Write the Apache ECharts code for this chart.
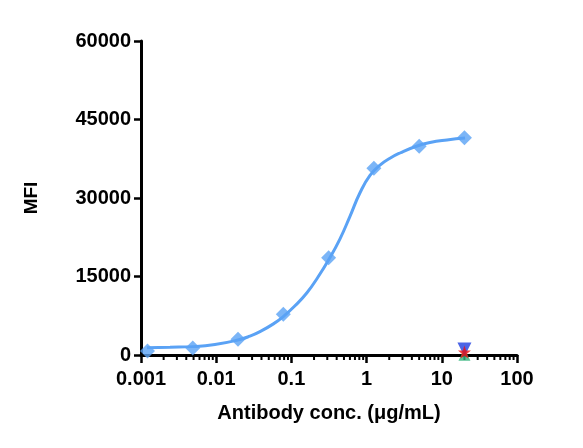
<!DOCTYPE html>
<html>
<head>
<meta charset="utf-8">
<script src="https://cdn.jsdelivr.net/npm/echarts@6/dist/echarts.min.js"></script>
<style>html,body{margin:0;padding:0;background:#fff}#c{width:583px;height:448px}</style>
</head>
<body>
<div id="c"></div>
<script>
// Measured data points (concentration µg/mL, MFI)
var concentrations = [0.00122, 0.00488, 0.0195, 0.078, 0.3125, 1.25, 5, 20];
var mfiValues = [760, 1340, 3000, 7800, 18600, 35700, 39900, 41500];

// Fitted curve (concentration, MFI)
var curveX = [0.0012, 0.00243, 0.00491, 0.00963, 0.0195, 0.0281, 0.0382, 0.0569, 0.0773, 0.1116, 0.161, 0.226, 0.316, 0.443, 0.601, 0.817, 1.109, 1.507, 2.046, 2.779, 4.40, 6.97, 11.72, 20.4];
var curveY = [1400, 1480, 1600, 2000, 2870, 3600, 4460, 5900, 7300, 9400, 11900, 14900, 18300, 22200, 26500, 31000, 34300, 36300, 37600, 38600, 39800, 40600, 41100, 41450];

// Control samples at 20 µg/mL
var controlBlue = [[20, 1050]];
var controlRed = [[20, 550]];
var controlGreen = [[20, 60]];

// Axis ticks
var xTickValues = [0.001, 0.01, 0.1, 1, 10, 100];
var xTickLabels = ['0.001', '0.01', '0.1', '1', '10', '100'];
var yTickLabels = ['0', '15000', '30000', '45000', '60000'];
var decades = [0.001, 0.01, 0.1, 1, 10];
var minorMultipliers = [2, 3, 4, 5, 6, 7, 8, 9];

var minorTicks = [];
decades.forEach(function (d) {
  minorMultipliers.forEach(function (m) { minorTicks.push([d * m, 0]); });
});

var pointData = concentrations.map(function (c, i) { return [c, mfiValues[i]]; });
var curveData = curveX.map(function (c, i) { return [c, curveY[i]]; });

var blue = '#5aa2f5';
var font = 'Liberation Sans, Arial, sans-serif';

var chart = echarts.init(document.getElementById('c'), null, {renderer: 'canvas'});
chart.setOption({
  animation: false,
  backgroundColor: '#fff',
  grid: {left: 141, right: 66, top: 41, bottom: 93, containLabel: false},
  xAxis: {
    type: 'log', logBase: 10, min: 0.001, max: 100,
    name: 'Antibody conc. (μg/mL)', nameLocation: 'middle', nameGap: 48,
    nameTextStyle: {fontFamily: font, fontWeight: 'bold', fontSize: 20, color: '#000'},
    axisLine: {show: true, lineStyle: {color: '#000', width: 3}},
    axisTick: {show: true, length: 8, lineStyle: {color: '#000', width: 2.5}},
    axisLabel: {
      margin: 14, fontFamily: font, fontWeight: 'bold', fontSize: 20, color: '#000',
      formatter: function (v) {
        for (var i = 0; i < xTickValues.length; i++) {
          if (Math.abs(Math.log10(v) - Math.log10(xTickValues[i])) < 1e-6) return xTickLabels[i];
        }
        return '';
      }
    },
    splitLine: {show: false}
  },
  yAxis: {
    type: 'value', min: 0, max: 60000, interval: 15000,
    name: 'MFI', nameLocation: 'middle', nameGap: 100, nameRotate: 90,
    nameTextStyle: {fontFamily: font, fontWeight: 'bold', fontSize: 19, color: '#000'},
    axisLine: {show: true, lineStyle: {color: '#000', width: 3}},
    axisTick: {show: true, length: 7, lineStyle: {color: '#000', width: 2.5}},
    axisLabel: {
      margin: 10, fontFamily: font, fontWeight: 'bold', fontSize: 20, color: '#000',
      formatter: function (v) { return yTickLabels[Math.round(v / 15000)]; }
    },
    splitLine: {show: false}
  },
  series: [
    {
      type: 'custom', data: minorTicks, clip: false, silent: true, z: 1,
      renderItem: function (params, api) {
        var p = api.coord([api.value(0), 0]);
        return {type: 'line', shape: {x1: p[0], y1: p[1] + 1, x2: p[0], y2: p[1] + 5},
          style: {stroke: '#000', lineWidth: 2}};
      }
    },
    {
      type: 'line', data: curveData, smooth: 0.5, showSymbol: false, symbol: 'none',
      lineStyle: {color: blue, width: 3}, z: 2
    },
    {
      type: 'scatter', data: pointData, symbol: 'diamond', symbolSize: 15,
      itemStyle: {color: blue}, z: 3
    },
    {
      type: 'scatter', data: controlGreen, symbol: 'triangle', symbolSize: 12,
      itemStyle: {color: '#2fb37a'}, z: 4
    },
    {
      type: 'scatter', data: controlBlue, symbol: 'triangle', symbolRotate: 180, symbolSize: 14,
      itemStyle: {color: '#1f3fe0'}, z: 5
    },
    {
      type: 'scatter', data: controlRed, symbol: 'path://M0,-10 L2.35,-3.24 L9.51,-3.09 L3.8,1.24 L5.88,8.09 L0,4 L-5.88,8.09 L-3.8,1.24 L-9.51,-3.09 L-2.35,-3.24 Z', symbolSize: 13,
      itemStyle: {color: '#f01010'}, z: 6
    }
  ]
});
</script>
</body>
</html>
